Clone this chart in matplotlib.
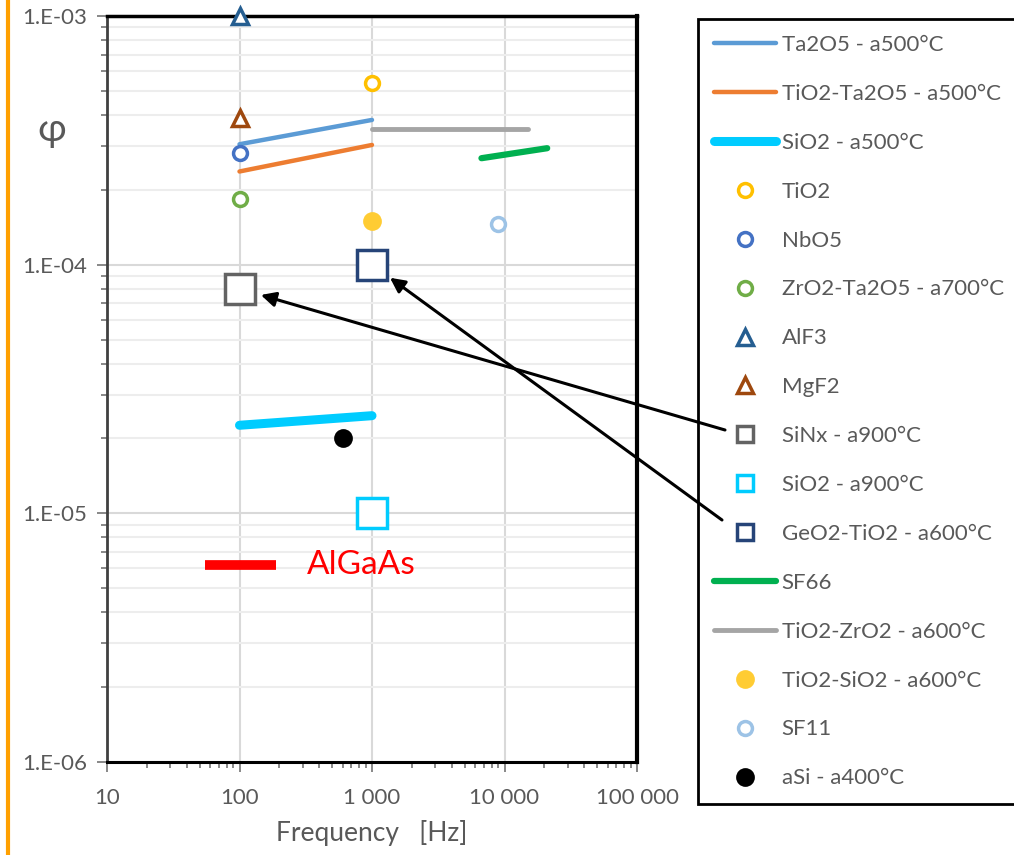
import matplotlib
matplotlib.use("Agg")
import matplotlib.pyplot as plt
from matplotlib.ticker import FixedLocator, LogLocator, NullFormatter, FuncFormatter
import numpy as np

plt.rcParams["font.family"] = ["Lato", "DejaVu Sans"]

TEXT_GREY = "#595959"

# line series
ta2o5_f = [100, 1000]
ta2o5_phi = [3.05e-4, 3.82e-4]
tio2_ta2o5_f = [100, 1000]
tio2_ta2o5_phi = [2.37e-4, 3.03e-4]
sio2_500_f = [100, 1000]
sio2_500_phi = [2.26e-5, 2.47e-5]
sf66_f = [6700, 21000]
sf66_phi = [2.68e-4, 2.94e-4]
tio2_zro2_f = [1000, 15000]
tio2_zro2_phi = [3.5e-4, 3.5e-4]
algaas_f = [55, 190]
algaas_phi = [6.2e-6, 6.2e-6]

# single points (freq, phi)
tio2_pt = (1000, 5.4e-4)
nbo5_pt = (100, 2.8e-4)
zro2_ta2o5_pt = (100, 1.83e-4)
alf3_pt = (100, 1.0e-3)
mgf2_pt = (100, 3.9e-4)
sinx_pt = (100, 8.0e-5)
sio2_900_pt = (1000, 1.0e-5)
geo2_tio2_pt = (1000, 1.0e-4)
tio2_sio2_pt = (1000, 1.5e-4)
sf11_pt = (9000, 1.46e-4)
asi_pt = (600, 2.0e-5)

y_ticks = [1e-6, 1e-5, 1e-4, 1e-3]
y_tick_labels = ["1.E-06", "1.E-05", "1.E-04", "1.E-03"]
x_ticks = [10, 100, 1000, 10000, 100000]
x_tick_labels = ["10", "100", "1 000", "10 000", "100 000"]

fig = plt.figure(figsize=(10.14, 8.55), dpi=100)
ax = fig.add_axes([107 / 1014, 93 / 855, 530 / 1014, 746 / 855])
ax.set_xscale("log")
ax.set_yscale("log")
ax.set_xlim(10, 100000)
ax.set_ylim(1e-6, 1e-3)

handles = []


def add_line(f, phi, color, lw, label):
    h, = ax.plot(f, phi, color=color, lw=lw, solid_capstyle="round", label=label, zorder=3)
    handles.append((h, None))


def add_point(pt, marker, color, size, leg_size, label, filled=False, mew=2.5):
    h, = ax.plot([pt[0]], [pt[1]], linestyle="none", marker=marker, ms=size,
                 markeredgecolor=color, markerfacecolor=color if filled else "white",
                 markeredgewidth=mew, label=label, zorder=4, clip_on=False)
    handles.append((h, leg_size))


add_line(ta2o5_f, ta2o5_phi, "#5B9BD5", 3.2, "Ta2O5 - a500°C")
add_line(tio2_ta2o5_f, tio2_ta2o5_phi, "#ED7D31", 3.2, "TiO2-Ta2O5 - a500°C")
add_line(sio2_500_f, sio2_500_phi, "#00CCFF", 6.5, "SiO2 - a500°C")
add_point(tio2_pt, "o", "#FFC000", 10, 10, "TiO2")
add_point(nbo5_pt, "o", "#4472C4", 10, 10, "NbO5")
add_point(zro2_ta2o5_pt, "o", "#70AD47", 10, 10, "ZrO2-Ta2O5 - a700°C")
add_point(alf3_pt, "^", "#255E91", 11, 11, "AlF3")
add_point(mgf2_pt, "^", "#9E480E", 11, 11, "MgF2")
add_point(sinx_pt, "s", "#636363", 21, 11, "SiNx - a900°C")
add_point(sio2_900_pt, "s", "#00CCFF", 21, 11, "SiO2 - a900°C")
add_point(geo2_tio2_pt, "s", "#264478", 21, 11, "GeO2-TiO2 - a600°C")
add_line(sf66_f, sf66_phi, "#00B050", 4.5, "SF66")
add_line(tio2_zro2_f, tio2_zro2_phi, "#A5A5A5", 3.5, "TiO2-ZrO2 - a600°C")
add_point(tio2_sio2_pt, "o", "#FFCC33", 11, 11, "TiO2-SiO2 - a600°C", filled=True)
add_point(sf11_pt, "o", "#9DC3E6", 10, 10, "SF11")
add_point(asi_pt, "o", "#000000", 11, 11, "aSi - a400°C", filled=True)

# AlGaAs reference band with inline label
ax.plot(algaas_f, algaas_phi, color="#FF0000", lw=7, solid_capstyle="butt", zorder=3)
ax.text(320, algaas_phi[0], "AlGaAs", color="#FF0000", fontsize=24, va="center", ha="left")

# grid and ticks
ax.yaxis.set_major_locator(FixedLocator(y_ticks))
ax.yaxis.set_minor_locator(LogLocator(base=10, subs=np.arange(2, 10)))
ax.yaxis.set_major_formatter(FuncFormatter(lambda v, p: y_tick_labels[y_ticks.index(v)] if v in y_ticks else ""))
ax.yaxis.set_minor_formatter(NullFormatter())
ax.xaxis.set_major_locator(FixedLocator(x_ticks))
ax.xaxis.set_minor_locator(LogLocator(base=10, subs=np.arange(2, 10)))
ax.xaxis.set_major_formatter(FuncFormatter(lambda v, p: x_tick_labels[x_ticks.index(v)] if v in x_ticks else ""))
ax.xaxis.set_minor_formatter(NullFormatter())

ax.grid(which="major", axis="both", color="#D9D9D9", lw=1.5, zorder=0)
ax.grid(which="minor", axis="y", color="#EDEDED", lw=1.5, zorder=0)
ax.set_axisbelow(True)

ax.tick_params(axis="both", which="major", colors="#7F7F7F", labelcolor=TEXT_GREY,
               labelsize=16, length=7, width=1.3, direction="out")
ax.tick_params(axis="both", which="minor", colors="#7F7F7F", length=4, width=1.3, direction="out")
ax.tick_params(axis="x", pad=12)
ax.tick_params(axis="y", pad=7)

for side, c, w in [("top", "black", 2.5), ("right", "black", 3), ("bottom", "black", 2.2), ("left", "#404040", 2)]:
    ax.spines[side].set_color(c)
    ax.spines[side].set_linewidth(w)

ax.set_xlabel("Frequency   [Hz]", color=TEXT_GREY, fontsize=19, labelpad=8)
fig.text(52 / 1014, 1 - 130 / 855, "φ", color=TEXT_GREY, fontsize=28, ha="center", va="center")

# legend lives on the axes so the callout arrows can sit above it
leg = ax.legend([h for h, _ in handles], [h.get_label() for h, _ in handles],
                loc="upper left", bbox_to_anchor=(698 / 1014, 1 - 19 / 855),
                bbox_transform=fig.transFigure,
                frameon=True, fancybox=False, framealpha=1, edgecolor="black", fontsize=16,
                labelcolor=TEXT_GREY, handlelength=2.8, handletextpad=0.25,
                labelspacing=1.30, borderpad=0.72, borderaxespad=0)
leg.get_frame().set_linewidth(2)
leg.set_zorder(5)
for lh, (_, sz) in zip(leg.legend_handles, handles):
    if sz is not None:
        lh.set_markersize(sz)

# callout arrows from legend entries to the square markers
arrow_kw = dict(arrowstyle="-|>", color="black", lw=2.2, mutation_scale=22)
a1 = ax.annotate("", xy=sinx_pt, xycoords="data", xytext=(725 / 1014, 1 - 430 / 855),
                 textcoords="figure fraction", arrowprops=dict(**arrow_kw, shrinkA=0, shrinkB=16))
a2 = ax.annotate("", xy=geo2_tio2_pt, xycoords="data", xytext=(722 / 1014, 1 - 520 / 855),
                 textcoords="figure fraction", arrowprops=dict(**arrow_kw, shrinkA=0, shrinkB=16))
a1.set_zorder(6)
a2.set_zorder(6)

# orange bar down the left edge
fig.add_artist(plt.Line2D([8 / 1014, 8 / 1014], [0, 1], color="#FFA000", lw=3))

fig.savefig("out.png", dpi=100)
